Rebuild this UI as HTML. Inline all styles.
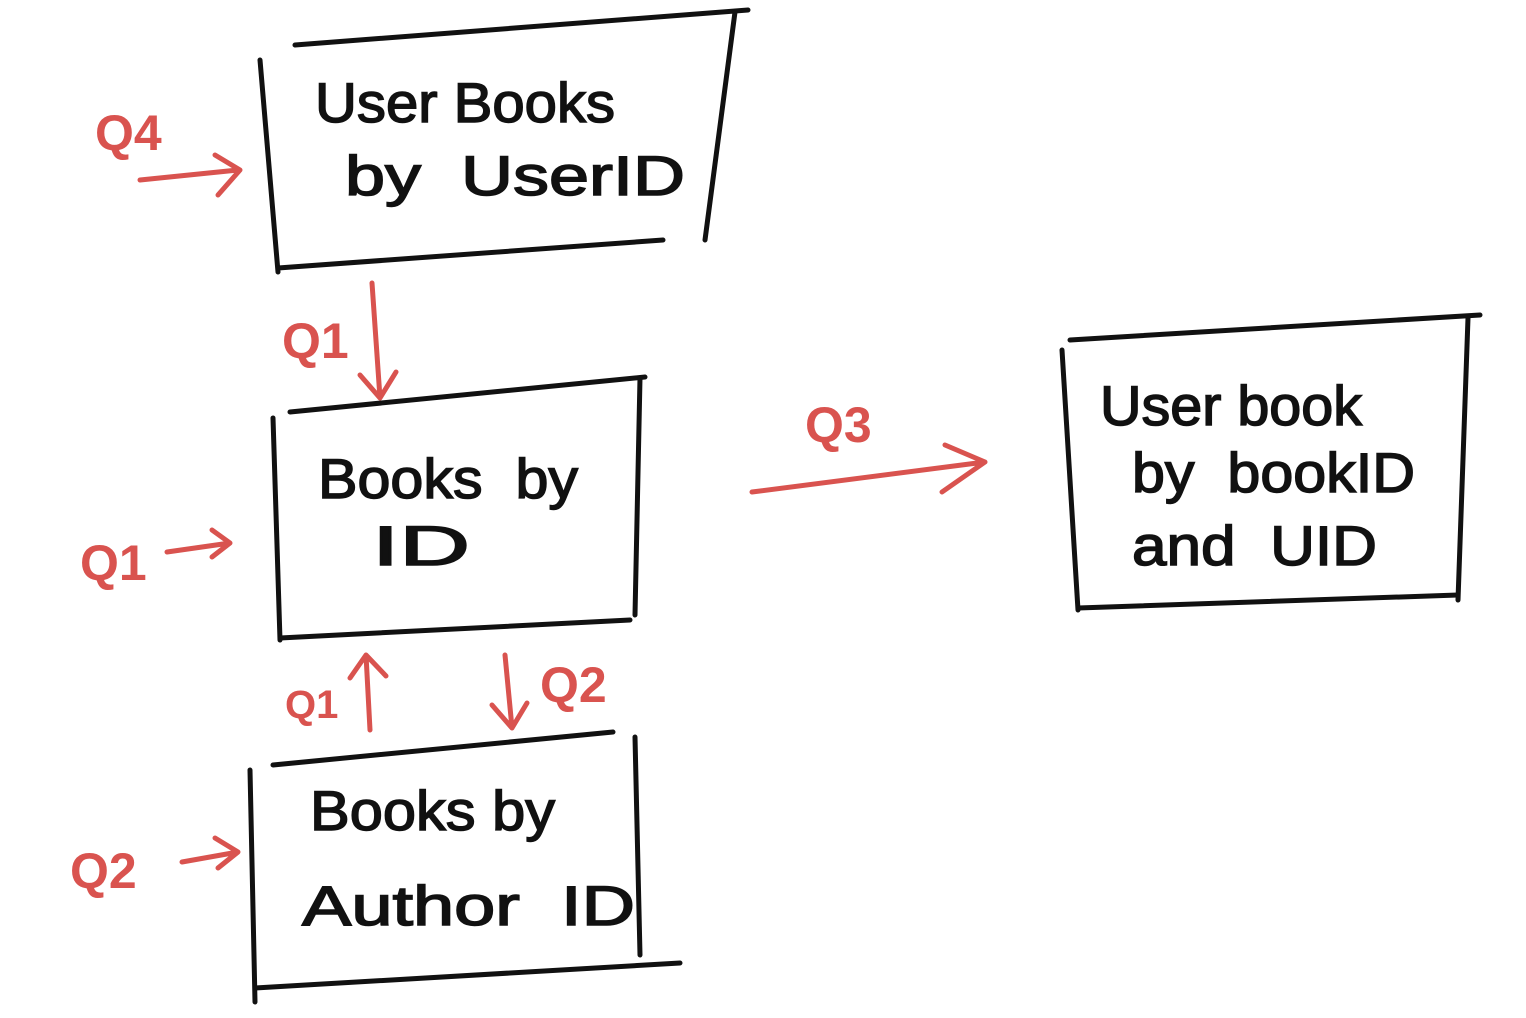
<!DOCTYPE html>
<html><head><meta charset="utf-8">
<style>
html,body{margin:0;padding:0;background:#fff;}
svg{display:block}
text{font-family:"Liberation Sans",sans-serif;}
.k{stroke:#111;stroke-width:5;stroke-linecap:round;fill:none}
.r{stroke:#d9534f;stroke-width:5;stroke-linecap:round;stroke-linejoin:round;fill:none}
.t{fill:#111;font-size:56px;stroke:#111;stroke-width:1.5;}
.q{fill:#d9534f;font-size:50px;font-weight:bold;}
</style></head>
<body>
<svg width="1526" height="1018" viewBox="0 0 1526 1018">
<!-- Box 1 -->
<line class="k" x1="295" y1="45" x2="748" y2="10"/>
<line class="k" x1="260" y1="60" x2="278" y2="272"/>
<line class="k" x1="278" y1="268" x2="663" y2="240"/>
<line class="k" x1="735" y1="12" x2="705" y2="240"/>
<text class="t" x="315" y="122" textLength="300" lengthAdjust="spacingAndGlyphs">User Books</text>
<text class="t" x="345" y="195" textLength="340" lengthAdjust="spacingAndGlyphs">by &#160;UserID</text>
<!-- Box 2 -->
<line class="k" x1="290" y1="412" x2="645" y2="377"/>
<line class="k" x1="273" y1="418" x2="280" y2="640"/>
<line class="k" x1="280" y1="638" x2="630" y2="620"/>
<line class="k" x1="640" y1="378" x2="635" y2="615"/>
<text class="t" x="318" y="498" textLength="260" lengthAdjust="spacingAndGlyphs">Books &#160;by</text>
<text class="t" x="372" y="565" textLength="98" lengthAdjust="spacingAndGlyphs">ID</text>
<!-- Box 3 -->
<line class="k" x1="273" y1="765" x2="613" y2="732"/>
<line class="k" x1="250" y1="770" x2="255" y2="1002"/>
<line class="k" x1="255" y1="988" x2="680" y2="963"/>
<line class="k" x1="635" y1="737" x2="640" y2="955"/>
<text class="t" x="310" y="830" textLength="245" lengthAdjust="spacingAndGlyphs">Books by</text>
<text class="t" x="302" y="925" textLength="333" lengthAdjust="spacingAndGlyphs">Author &#160;ID</text>
<!-- Box 4 -->
<line class="k" x1="1070" y1="340" x2="1480" y2="315"/>
<line class="k" x1="1062" y1="350" x2="1078" y2="610"/>
<line class="k" x1="1078" y1="608" x2="1458" y2="595"/>
<line class="k" x1="1468" y1="318" x2="1458" y2="600"/>
<text class="t" x="1100" y="425" textLength="262" lengthAdjust="spacingAndGlyphs">User book</text>
<text class="t" x="1132" y="492" textLength="283" lengthAdjust="spacingAndGlyphs">by &#160;bookID</text>
<text class="t" x="1132" y="565" textLength="245" lengthAdjust="spacingAndGlyphs">and &#160;UID</text>
<!-- Red arrows -->
<text class="q" x="95" y="150">Q4</text>
<path class="r" d="M140 180 L238 170 M215 155 L240 170 L218 195"/>
<text class="q" x="282" y="358">Q1</text>
<path class="r" d="M372 283 L380 398 M360 375 L380 398 L396 372"/>
<text class="q" x="80" y="580">Q1</text>
<path class="r" d="M167 552 L230 543 M212 530 L230 543 L212 557"/>
<text class="q" x="805" y="442">Q3</text>
<path class="r" d="M752 492 L985 462 M945 445 L985 462 L942 492"/>
<text class="q" x="285" y="718" style="font-size:40px">Q1</text>
<path class="r" d="M370 730 L366 655 M350 678 L366 655 L386 676"/>
<path class="r" d="M505 655 L512 728 M492 705 L512 728 L527 703"/>
<text class="q" x="540" y="702">Q2</text>
<text class="q" x="70" y="888">Q2</text>
<path class="r" d="M182 862 L238 852 M215 838 L238 852 L218 868"/>
</svg>
</body></html>
